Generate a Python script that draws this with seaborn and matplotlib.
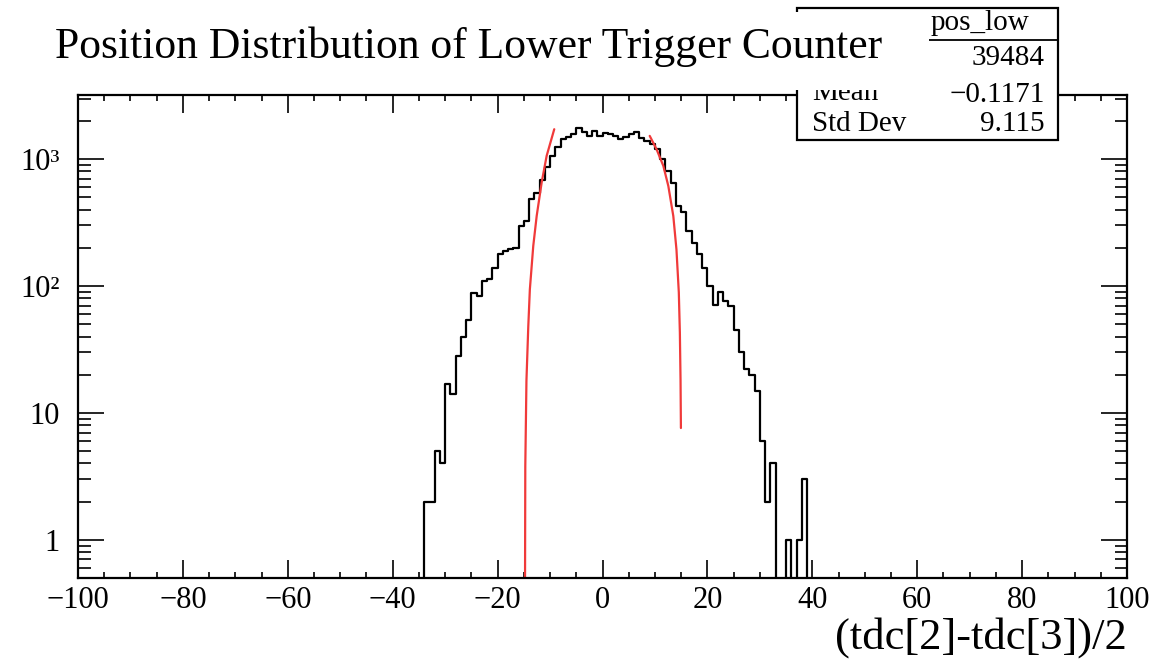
import numpy as np
import pandas as pd
import matplotlib
matplotlib.use("Agg")
import matplotlib.pyplot as plt
import seaborn as sns
from matplotlib.ticker import MultipleLocator, LogLocator, FixedLocator, FixedFormatter, NullFormatter
from matplotlib.patches import Rectangle

# histogram, 1 unit bins: left edge of each bin and its count
bin_left = list(range(-34, 39))
counts = [2, 2, 5, 4, 17, 14, 28, 40, 54, 88, 84, 109, 113, 139, 178, 189, 195,
          200, 297, 323, 482, 544, 680, 862, 1050, 1250, 1440, 1500, 1580, 1770,
          1630, 1520, 1680, 1520,
          1600, 1580, 1520, 1440, 1480, 1580, 1630, 1470, 1390, 1310, 1200, 1000,
          800, 650, 430, 380, 270, 220, 178, 139, 100, 71, 89, 76, 69, 45, 30, 22,
          20, 15, 6, 2, 4, 0, 0, 1, 0, 1, 3]

# red fit curves (two pieces)
fit_left_x = [-14.78, -14.72, -14.5, -14.15, -13.85, -13.2, -12.55, -11.6, -10.65, -9.2]
fit_left_y = [0.3, 3.8, 18, 48, 94, 207, 356, 654, 1060, 1720]
fit_right_x = [9.0, 10.3, 11.6, 12.55, 13.5, 14.1, 14.55, 14.75, 14.88, 14.95]
fit_right_y = [1524, 1197, 884, 614, 356, 194, 89, 43, 18, 7.6]

title = "Position Distribution of Lower Trigger Counter"
xlabel = "(tdc[2]-tdc[3])/2"
hist_name = "pos_low"
entries = "39484"
stat_labels = ["Mean", "Std Dev"]
stat_values = ["\u22120.1171", "9.115"]

sns.set_style("ticks")
plt.rcParams["font.family"] = ["Liberation Serif", "DejaVu Serif"]
plt.rcParams["text.color"] = "black"
plt.rcParams["xtick.color"] = "black"
plt.rcParams["ytick.color"] = "black"

W, H = 1171, 667
fig = plt.figure(figsize=(W / 100, H / 100), dpi=100)
ax = fig.add_axes([78 / W, 1 - 578 / H, (1127 - 78) / W, (578 - 95) / H])

df = pd.DataFrame({"pos": np.array(bin_left) + 0.5, "n": counts})
sns.histplot(data=df, x="pos", weights="n", binwidth=1, binrange=(-100, 100),
             element="step", fill=False, color="black", linewidth=1.6, ax=ax)
sns.lineplot(x=fit_left_x, y=fit_left_y, sort=False, estimator=None,
             color="#f03a3a", linewidth=1.6, ax=ax)
sns.lineplot(x=fit_right_x, y=fit_right_y, sort=False, estimator=None,
             color="#f03a3a", linewidth=1.6, ax=ax)

ax.set_yscale("log")
ax.set_xlim(-100, 100)
ax.set_ylim(0.5, 3200)
ax.set_xlabel("")
ax.set_ylabel("")

ax.xaxis.set_major_locator(MultipleLocator(20))
ax.xaxis.set_minor_locator(MultipleLocator(5))
ax.yaxis.set_major_locator(FixedLocator([1, 10, 100, 1000]))
ax.yaxis.set_major_formatter(FixedFormatter(["1", "10", "10\u00b2", "10\u00b3"]))
ax.yaxis.set_minor_locator(LogLocator(base=10, subs=np.arange(2, 10)))
ax.yaxis.set_minor_formatter(NullFormatter())

ax.tick_params(which="both", direction="in", top=True, right=True, width=1.2,
               color="black", labelcolor="black")
ax.tick_params(axis="x", which="major", length=13, labelsize=22, pad=6)
ax.tick_params(axis="x", which="minor", length=4)
ax.tick_params(axis="y", which="major", length=19, labelsize=22, pad=13)
ax.tick_params(axis="y", which="minor", length=9)
for s in ax.spines.values():
    s.set_linewidth(1.6)
    s.set_color("black")

fig.text(1127 / W, 1 - 638 / H, xlabel, ha="right", va="center", fontsize=32)


def fx(px):
    return px / W


def fy(py):
    return 1 - py / H


# stats box
fig.patches.append(Rectangle((fx(797), fy(140)), fx(1058) - fx(797), fy(8) - fy(140),
                             transform=fig.transFigure, facecolor="white",
                             edgecolor="black", linewidth=1.6, zorder=5))
fig.lines.append(plt.Line2D([fx(797), fx(1058)], [fy(40), fy(40)],
                            transform=fig.transFigure, color="black", lw=1.3, zorder=6))
fig.text(fx(980), fy(30), hist_name, ha="center", va="baseline", fontsize=21, zorder=7)
fig.text(fx(1045), fy(65), entries, ha="right", va="baseline", fontsize=21, zorder=7)
for lab, val, yy in zip(stat_labels, stat_values, [100, 131]):
    fig.text(fx(812), fy(yy), lab, ha="left", va="baseline", fontsize=21, zorder=7)
    fig.text(fx(1045), fy(yy + 2 if lab == "Mean" else yy), val, ha="right",
             va="baseline", fontsize=21, zorder=7)

# title pad drawn over the stats box
fig.patches.append(Rectangle((0, fy(90)), fx(929), fy(12) - fy(90),
                             transform=fig.transFigure, facecolor="white",
                             edgecolor="none", zorder=8))
fig.text(fx(55), fy(47), title, ha="left", va="center", fontsize=31.4, zorder=9)

fig.savefig("out.png", dpi=100)
